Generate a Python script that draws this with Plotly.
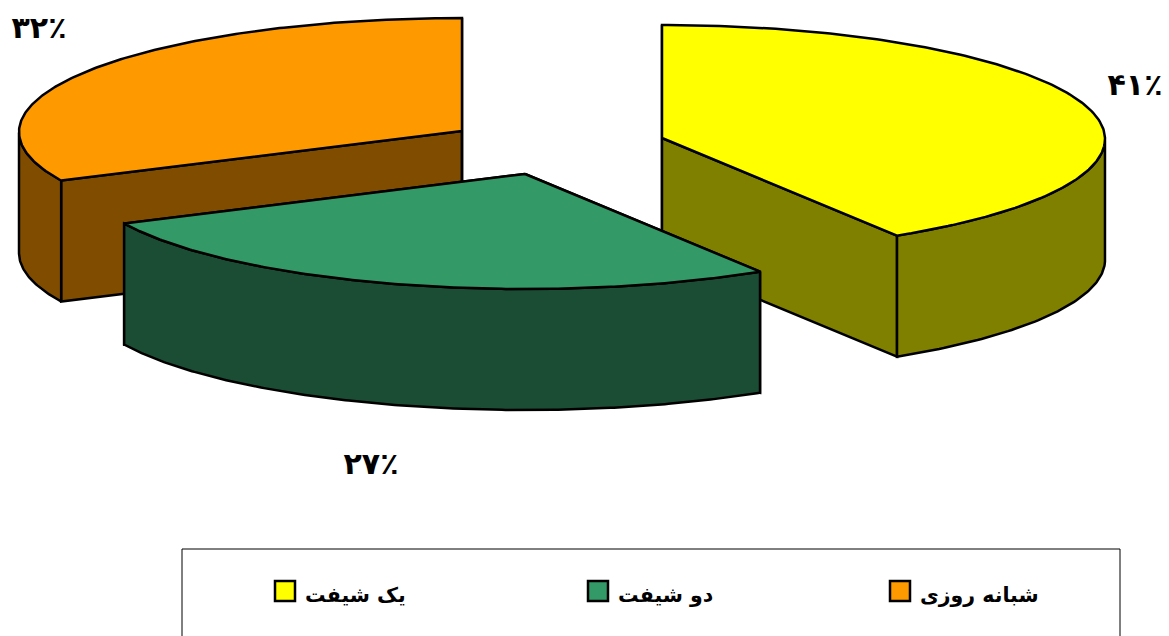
import numpy as np
import plotly.graph_objects as go

# --- data ---
categories = ["یک شیفت", "دو شیفت", "شبانه روزی"]
shares = [41.1, 26.9, 32.0]
pct_labels = ["۴۱٪", "۲۷٪", "۳۲٪"]
top_colors = ["#FFFF00", "#339966", "#FF9900"]
side_colors = ["#808000", "#1A4D33", "#804D00"]

# --- layout of the tilted, exploded pie (pixels of the plot area) ---
W, H = 1169, 636
RX, RY, DEPTH = 443, 114, 121
ARC_DY = 1
centers = [(662, 138), (525, 174), (462, 131)]
label_pos = [(1135, 87), (371, 466), (39, 30)]
legend_key_x = [285, 598, 900]
legend_text_x = [305, 618, 920]
legend_y = 591
FONT = "DejaVu Sans"
LW = 2.5

fig = go.Figure()


def poly(xs, ys, fill):
    fig.add_trace(go.Scatter(
        x=list(xs), y=list(ys), mode="lines", fill="toself", fillcolor=fill,
        line=dict(color="black", width=LW), hoverinfo="skip", showlegend=False,
    ))


starts = np.cumsum([0] + shares[:-1]) / 100 * 2 * np.pi
spans = np.array(shares) / 100 * 2 * np.pi
for i in [2, 0, 1]:
    cx, cy = centers[i]
    t = np.linspace(starts[i], starts[i] + spans[i], 200)
    ax = cx + RX * np.sin(t)
    ay = cy + ARC_DY - RY * np.cos(t)
    # cut faces
    for k in (0, -1):
        poly([cx, ax[k], ax[k], cx, cx],
             [cy, ay[k], ay[k] + DEPTH, cy + DEPTH, cy], side_colors[i])
    # outer wall, front-facing part only
    front = np.cos(t) <= 0
    fx, fy = ax[front], ay[front]
    poly(np.r_[fx, fx[::-1], fx[0]], np.r_[fy, fy[::-1] + DEPTH, fy[0]], side_colors[i])
    # top face
    poly(np.r_[cx, ax, cx], np.r_[cy, ay, cy], top_colors[i])

# percentage labels
fig.add_trace(go.Scatter(
    x=[p[0] for p in label_pos], y=[p[1] for p in label_pos], mode="text",
    text=pct_labels, textposition="middle center",
    textfont=dict(family=FONT, size=30, color="black", weight="bold"),
    hoverinfo="skip", showlegend=False,
))

# legend keys and names
fig.add_trace(go.Scatter(
    x=legend_key_x, y=[legend_y] * 3, mode="markers",
    marker=dict(symbol="square", size=20, color=top_colors, line=dict(color="black", width=2.5)),
    hoverinfo="skip", showlegend=False,
))
fig.add_trace(go.Scatter(
    x=legend_text_x, y=[legend_y + 6] * 3, mode="text",
    text=categories, textposition="middle right",
    textfont=dict(family=FONT, size=20.5, color="black", weight="bold"),
    hoverinfo="skip", showlegend=False,
))

fig.update_layout(
    width=W, height=H, margin=dict(l=0, r=0, t=0, b=0),
    paper_bgcolor="white", plot_bgcolor="white", showlegend=False,
    font=dict(family=FONT),
    xaxis=dict(range=[0, W], visible=False, fixedrange=True),
    yaxis=dict(range=[H, 0], visible=False, fixedrange=True),
    shapes=[dict(type="rect", xref="x", yref="y", x0=182, x1=1120, y0=549, y1=H + 20,
                 line=dict(color="black", width=1), fillcolor="rgba(0,0,0,0)", layer="below")],
)
fig.write_html(
    "out.html", config={"displayModeBar": False},
    post_script="document.body.style.margin='0';document.body.style.overflow='hidden';",
)
